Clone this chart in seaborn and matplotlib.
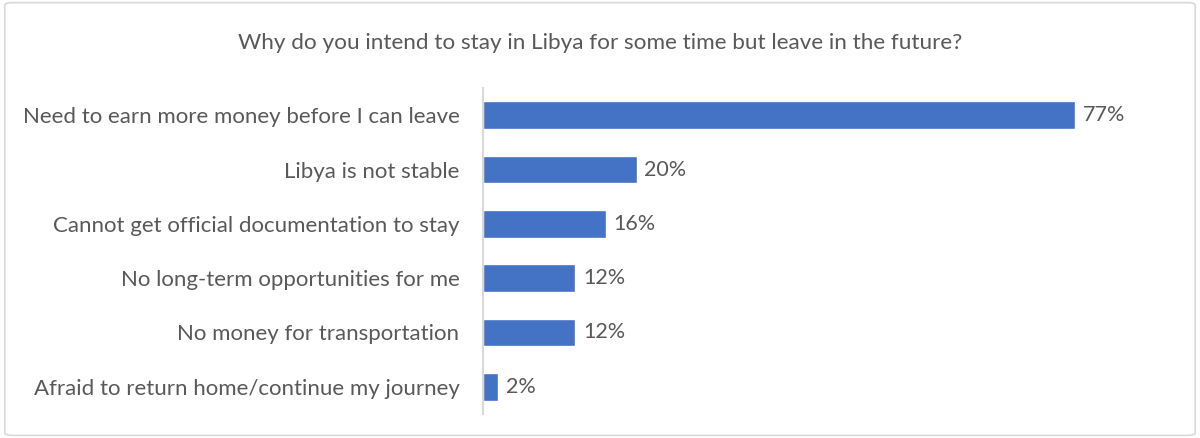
import matplotlib
matplotlib.use("Agg")
import matplotlib.pyplot as plt
import seaborn as sns
import pandas as pd
from matplotlib.patches import FancyBboxPatch

title = "Why do you intend to stay in Libya for some time but leave in the future?"
reasons = [
    "Need to earn more money before I can leave",
    "Libya is not stable",
    "Cannot get official documentation to stay",
    "No long-term opportunities for me",
    "No money for transportation",
    "Afraid to return home/continue my journey",
]
shares = [77, 20, 16, 12, 12, 2]

df = pd.DataFrame({"reason": reasons, "share": shares})

sns.set_theme(style="white")
plt.rcParams["font.family"] = ["Lato", "DejaVu Sans"]

text_color = "#595959"
bar_color = "#4472C4"

fig = plt.figure(figsize=(12, 4.38), dpi=100)
ax = fig.add_axes([483 / 1200, 1 - 414 / 438, 692 / 1200, (414 - 88) / 438])

sns.barplot(data=df, x="share", y="reason", color=bar_color, width=0.51,
            saturation=1, ax=ax, orient="h")

ax.set_xlim(0, 90)
ax.set_ylim(len(reasons) - 0.5, -0.5)
ax.set_xlabel("")
ax.set_ylabel("")
ax.set_xticks([])
for side in ["top", "right", "bottom"]:
    ax.spines[side].set_visible(False)
ax.spines["left"].set_color("#d9d9d9")
ax.spines["left"].set_linewidth(1.5)
ax.tick_params(axis="y", length=0, pad=17, labelsize=16, labelcolor=text_color)

for i, v in enumerate(shares):
    ax.text(v + 1.0, i, f"{v}%", va="center", ha="left", fontsize=15.5, color=text_color)

fig.text(0.5, 1 - 43 / 438, title, ha="center", va="center", fontsize=16.2, color=text_color)

frame = FancyBboxPatch((0.004, 0.006), 0.992, 0.988, boxstyle="round,pad=0,rounding_size=0.006",
                       transform=fig.transFigure, fill=False, edgecolor="#d9d9d9", linewidth=1.2)
fig.add_artist(frame)

fig.savefig("out.png", dpi=100, facecolor="white")
